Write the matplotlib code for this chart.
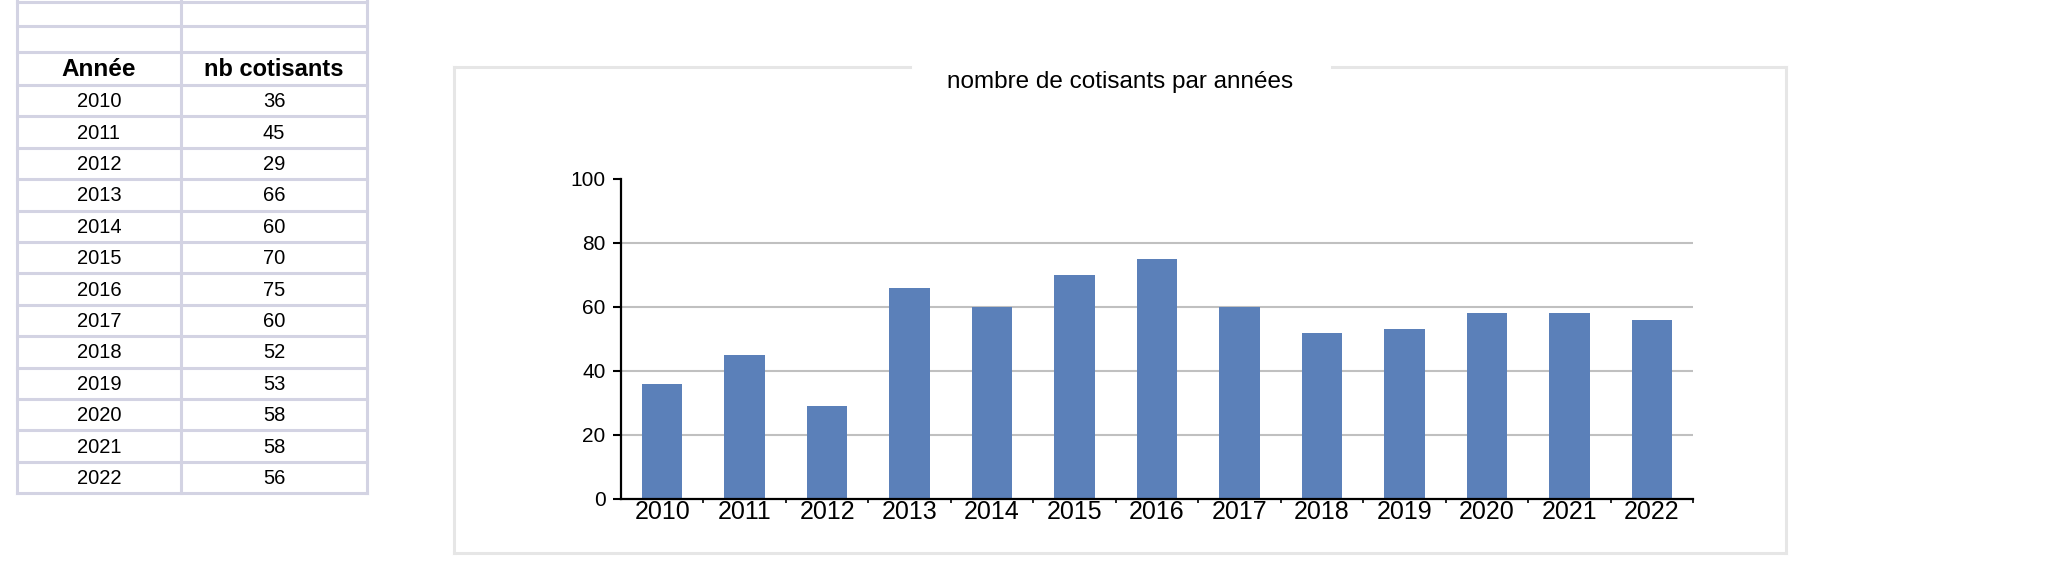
import matplotlib
matplotlib.use("Agg")
import matplotlib.pyplot as plt
from matplotlib.lines import Line2D

plt.rcParams['font.family'] = ['Liberation Sans', 'DejaVu Sans']

# ---- data ----
years = ["2010", "2011", "2012", "2013", "2014", "2015", "2016",
         "2017", "2018", "2019", "2020", "2021", "2022"]
cotisants = [36, 45, 29, 66, 60, 70, 75, 60, 52, 53, 58, 58, 56]
header = ["Année", "nb cotisants"]
title = "nombre de cotisants par années"
yticks = [0, 20, 40, 60, 80, 100]

W, H = 2047, 583
fig = plt.figure(figsize=(W / 100, H / 100), dpi=100)
fig.patch.set_facecolor("white")

# overlay axes in pixel coordinates (y down)
ov = fig.add_axes([0, 0, 1, 1])
ov.set_xlim(0, W)
ov.set_ylim(H, 0)
ov.axis("off")

# ---- table ----
grid_c = "#d3d3e3"
x_left, x_mid, x_right = 17, 181, 367
top_lines = [2, 26, 52]
row_top = 85
row_h = 31.4
n = len(years)
bottom = row_top + n * row_h
for y in top_lines + [row_top + i * row_h for i in range(n + 1)]:
    ov.add_line(Line2D([x_left, x_right], [y, y], color=grid_c, lw=2.2))
for x in [x_left, x_mid, x_right]:
    ov.add_line(Line2D([x, x], [0, bottom], color=grid_c, lw=2.2))
cx1 = (x_left + x_mid) / 2
cx2 = (x_mid + x_right) / 2
hy = (52 + row_top) / 2 + 1
ov.text(cx1, hy, header[0], ha="center", va="center", fontsize=17.5, fontweight="bold")
ov.text(cx2, hy, header[1], ha="center", va="center", fontsize=17, fontweight="bold")
for i, (yr, v) in enumerate(zip(years, cotisants)):
    yc = row_top + (i + 0.5) * row_h + 1
    ov.text(cx1, yc, yr, ha="center", va="center", fontsize=14.5)
    ov.text(cx2, yc, str(v), ha="center", va="center", fontsize=14.5)

# ---- chart frame ----
fc = "#e6e6e6"
fl, fr, ft, fb = 454, 1786, 67, 553
gap_l, gap_r = 910, 1332
for seg in [([fl, gap_l], [ft, ft]), ([gap_r, fr], [ft, ft]),
            ([fl, fr], [fb, fb]), ([fl, fl], [ft, fb]), ([fr, fr], [ft, fb])]:
    ov.add_line(Line2D(seg[0], seg[1], color=fc, lw=2.2))
ov.text((fl + fr) / 2, 82, title, ha="center", va="center", fontsize=17.5)

# ---- bar chart ----
ax_l, ax_r, ax_b, ax_t = 621, 1693, 499, 179
ax = fig.add_axes([ax_l / W, (H - ax_b) / H, (ax_r - ax_l) / W, (ax_b - ax_t) / H])
ax.set_facecolor("none")
xs = list(range(n))
ax.bar(xs, cotisants, width=0.49, color="#5b80b9", zorder=3)
ax.set_xlim(-0.5, n - 0.5)
ax.set_ylim(0, 100)
ax.set_yticks(yticks)
ax.set_yticklabels([str(t) for t in yticks], fontsize=15)
for t in yticks[1:-1]:
    ax.axhline(t, color="#c0c0c0", lw=1.5, zorder=1)
ax.set_xticks(xs)
ax.set_xticklabels(years, fontsize=18)
ax.set_xticks([i + 0.5 for i in range(n)], minor=True)
ax.tick_params(axis="x", which="major", length=0, pad=0.5)
ax.tick_params(axis="x", which="minor", length=3, width=1.2, direction="out")
ax.tick_params(axis="y", which="major", length=6, width=1.5, direction="out", pad=5)
for s in ["top", "right"]:
    ax.spines[s].set_visible(False)
for s in ["left", "bottom"]:
    ax.spines[s].set_linewidth(1.6)
    ax.spines[s].set_color("black")
ax.spines["bottom"].set_zorder(4)

fig.savefig("out.png", dpi=100, facecolor="white")
